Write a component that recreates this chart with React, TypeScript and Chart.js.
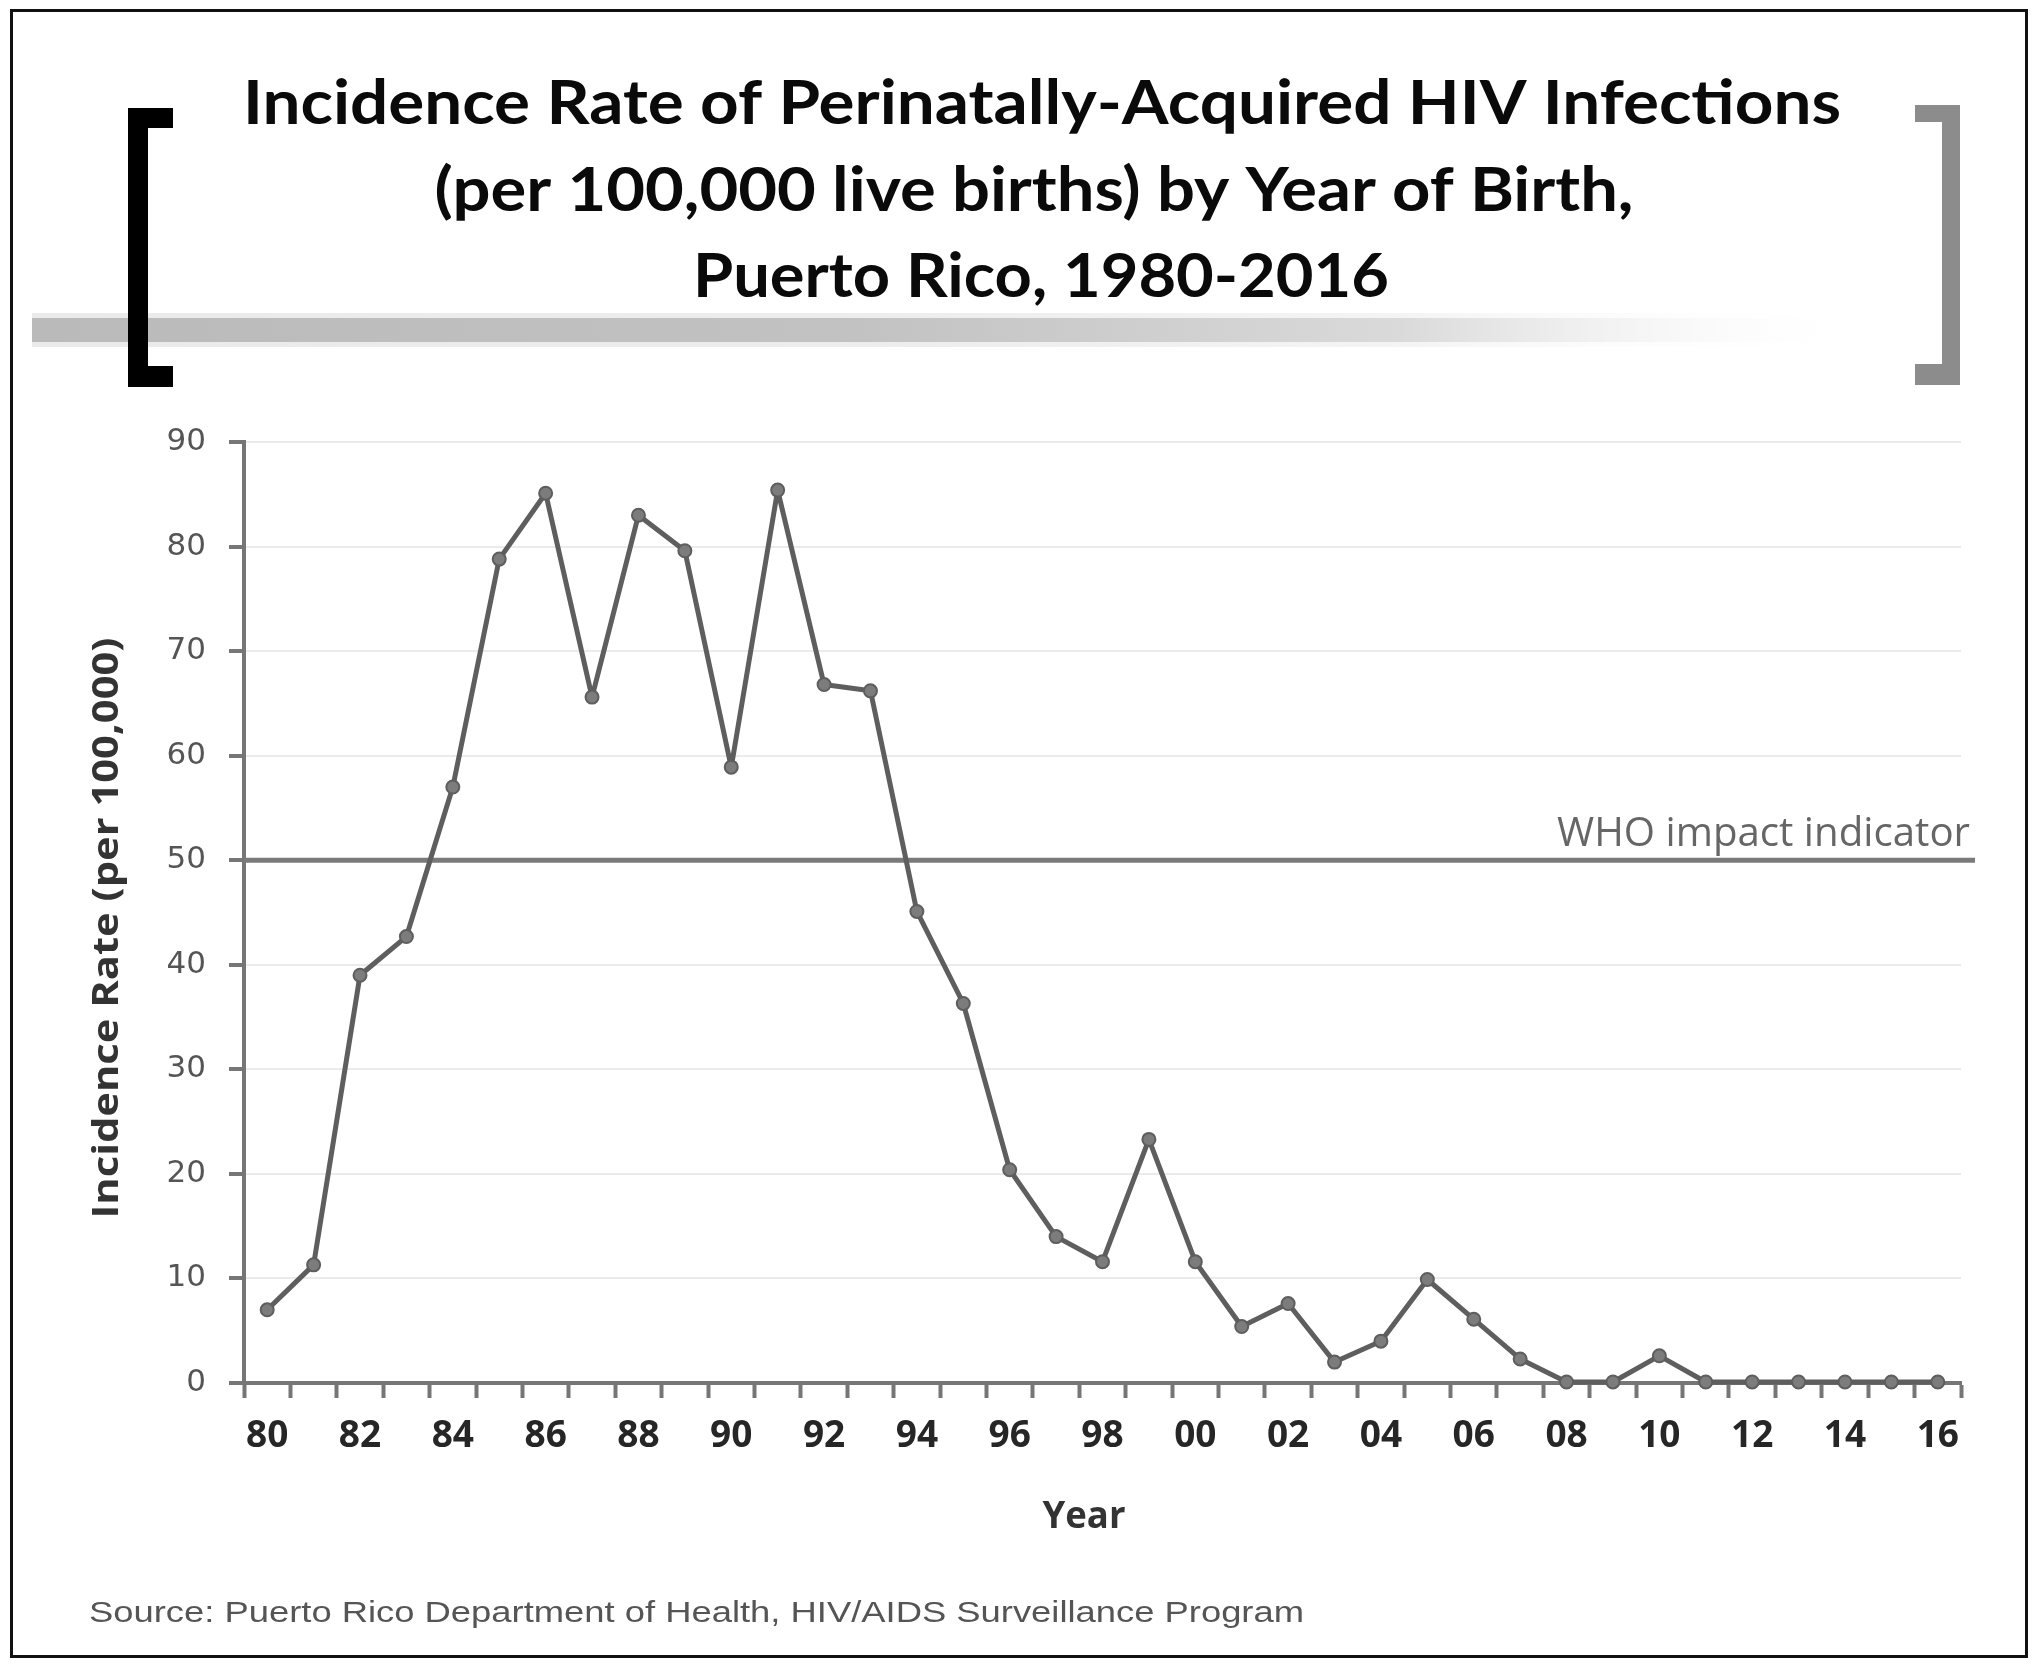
import React, { useEffect, useRef } from "react";
import { Chart, registerables } from "chart.js";

Chart.register(...registerables);

// ---------------- data ----------------
const YEARS: string[] = [
  "80", "81", "82", "83", "84", "85", "86", "87", "88", "89",
  "90", "91", "92", "93", "94", "95", "96", "97", "98", "99",
  "00", "01", "02", "03", "04", "05", "06", "07", "08", "09",
  "10", "11", "12", "13", "14", "15", "16",
];
const RATES: number[] = [
  7.0, 11.3, 39.0, 42.7, 57.0, 78.8, 85.1, 65.6, 83.0, 79.6,
  58.9, 85.4, 66.8, 66.2, 45.1, 36.3, 20.4, 14.0, 11.6, 23.3,
  11.6, 5.4, 7.6, 2.0, 4.0, 9.9, 6.1, 2.3, 0.1, 0.1,
  2.6, 0.1, 0.1, 0.1, 0.1, 0.1, 0.1,
];
const Y_MIN = 0;
const Y_MAX = 90;
const Y_STEP = 10;
const WHO_INDICATOR = 50;

const TITLE_LINES: string[] = [
  "Incidence Rate of Perinatally-Acquired HIV Infections",
  "(per 100,000 live births) by Year of Birth,",
  "Puerto Rico, 1980-2016",
];
const Y_TITLE = "Incidence Rate (per 100,000)";
const X_TITLE = "Year";
const WHO_LABEL = "WHO impact indicator";
const SOURCE = "Source: Puerto Rico Department of Health, HIV/AIDS Surveillance Program";

// ---------------- helpers ----------------
function fitText(
  ctx: CanvasRenderingContext2D,
  text: string,
  x: number,
  y: number,
  width: number,
  align: CanvasTextAlign
) {
  const w = ctx.measureText(text).width || 1;
  ctx.save();
  ctx.translate(x, y);
  ctx.scale(width / w, 1);
  ctx.textAlign = align;
  ctx.textBaseline = "alphabetic";
  ctx.fillText(text, 0, 0);
  ctx.restore();
}

const decorPlugin = {
  id: "decor",
  beforeDraw(chart: any) {
    const ctx: CanvasRenderingContext2D = chart.ctx;
    const W = chart.width;
    const H = chart.height;
    ctx.save();
    ctx.fillStyle = "#ffffff";
    ctx.fillRect(0, 0, W, H);

    // gradient band under title
    const g = ctx.createLinearGradient(32, 0, 1860, 0);
    g.addColorStop(0, "#bababa");
    g.addColorStop(0.45, "#c2c2c2");
    g.addColorStop(0.75, "#dadada");
    g.addColorStop(1, "rgba(255,255,255,0)");
    ctx.globalAlpha = 0.3;
    ctx.fillStyle = g;
    ctx.fillRect(32, 313, 1828, 34);
    ctx.globalAlpha = 1;
    ctx.fillRect(32, 318, 1828, 24);

    // left bracket (black)
    ctx.fillStyle = "#000000";
    ctx.fillRect(128, 108, 20, 279);
    ctx.fillRect(128, 108, 45, 20);
    ctx.fillRect(128, 366, 45, 21);

    // right bracket (gray)
    ctx.fillStyle = "#8c8c8c";
    ctx.fillRect(1942, 105, 18, 280);
    ctx.fillRect(1915, 105, 45, 17);
    ctx.fillRect(1915, 364, 45, 21);

    // outer border
    ctx.strokeStyle = "#111111";
    ctx.lineWidth = 3;
    ctx.strokeRect(11.5, 10.5, 2015, 1646);

    // title
    ctx.fillStyle = "#0a0a0a";
    ctx.font = "bold 61px Lato";
    fitText(ctx, TITLE_LINES[0], 1042, 124, 1598, "center");
    fitText(ctx, TITLE_LINES[1], 1034, 211, 1199, "center");
    fitText(ctx, TITLE_LINES[2], 1041, 297, 696, "center");

    // y axis title
    ctx.fillStyle = "#333333";
    ctx.font = "bold 36px 'Open Sans'";
    ctx.save();
    ctx.translate(105, 928);
    ctx.rotate(-Math.PI / 2);
    fitText(ctx, Y_TITLE, 0, 13, 581, "center");
    ctx.restore();

    // x axis title
    ctx.fillStyle = "#333333";
    ctx.font = "bold 37px 'Open Sans'";
    fitText(ctx, X_TITLE, 1084, 1528, 83, "center");

    // source
    ctx.fillStyle = "#555555";
    ctx.font = "30px 'Liberation Sans'";
    fitText(ctx, SOURCE, 89, 1622, 1215, "left");
    ctx.restore();
  },
  beforeDatasetsDraw(chart: any) {
    const ctx: CanvasRenderingContext2D = chart.ctx;
    const y = chart.scales.y.getPixelForValue(WHO_INDICATOR);
    const { left, right } = chart.chartArea;
    ctx.save();
    ctx.strokeStyle = "#7a7a7a";
    ctx.lineWidth = 5;
    ctx.beginPath();
    ctx.moveTo(left, y);
    ctx.lineTo(right + 14, y);
    ctx.stroke();
    ctx.fillStyle = "#666666";
    ctx.font = "40px 'Open Sans'";
    fitText(ctx, WHO_LABEL, right + 9, y - 14, 413, "right");
    ctx.restore();
  },
};

export default function App() {
  const canvasRef = useRef<HTMLCanvasElement | null>(null);

  useEffect(() => {
    const canvas = canvasRef.current;
    if (!canvas) return;
    const axisColor = "#767676";
    const chart = new Chart(canvas, {
      type: "line",
      data: {
        labels: YEARS,
        datasets: [
          {
            label: "Incidence rate",
            data: RATES,
            borderColor: "#5e5e5e",
            borderWidth: 5,
            borderJoinStyle: "round",
            borderCapStyle: "round",
            pointRadius: 6.5,
            pointBackgroundColor: "#7c7c7c",
            pointBorderColor: "#5e5e5e",
            pointBorderWidth: 2,
            tension: 0,
            clip: false as any,
          },
        ],
      },
      options: {
        responsive: false,
        animation: false,
        devicePixelRatio: 1,
        layout: { padding: { left: 0, top: 442, right: 79, bottom: 0 } },
        plugins: {
          legend: { display: false },
          title: { display: false },
          tooltip: { enabled: false },
        },
        scales: {
          x: {
            type: "category",
            offset: true,
            grid: {
              display: true,
              drawOnChartArea: false,
              offset: true,
              drawTicks: true,
              tickLength: 15,
              tickColor: axisColor,
              tickWidth: 4,
            },
            border: { display: true, color: axisColor, width: 4 },
            ticks: {
              autoSkip: false,
              maxRotation: 0,
              minRotation: 0,
              padding: 16,
              color: "#262626",
              font: { family: "'Open Sans'", weight: "bold", size: 37 },
              callback: (_v: any, i: number) => (i % 2 === 0 ? YEARS[i] : ""),
            },
            afterFit: (scale: any) => {
              scale.height = 287;
            },
          },
          y: {
            min: Y_MIN,
            max: Y_MAX,
            grid: {
              color: "#ebebeb",
              lineWidth: 2,
              drawTicks: true,
              tickLength: 15,
              tickColor: axisColor,
              tickWidth: 4,
            },
            border: { display: true, color: axisColor, width: 4 },
            ticks: {
              stepSize: Y_STEP,
              padding: 23,
              color: "#555555",
              font: { family: "'DejaVu Sans'", size: 31 },
            },
            afterFit: (scale: any) => {
              scale.width = 244;
            },
          },
        },
      } as any,
      plugins: [decorPlugin as any],
    });
    return () => chart.destroy();
  }, []);

  return (
    <div style={{ position: "fixed", left: 0, top: 0, width: 2040, height: 1670, background: "#fff" }}>
      <canvas ref={canvasRef} width={2040} height={1670} style={{ width: 2040, height: 1670, display: "block" }} />
    </div>
  );
}
